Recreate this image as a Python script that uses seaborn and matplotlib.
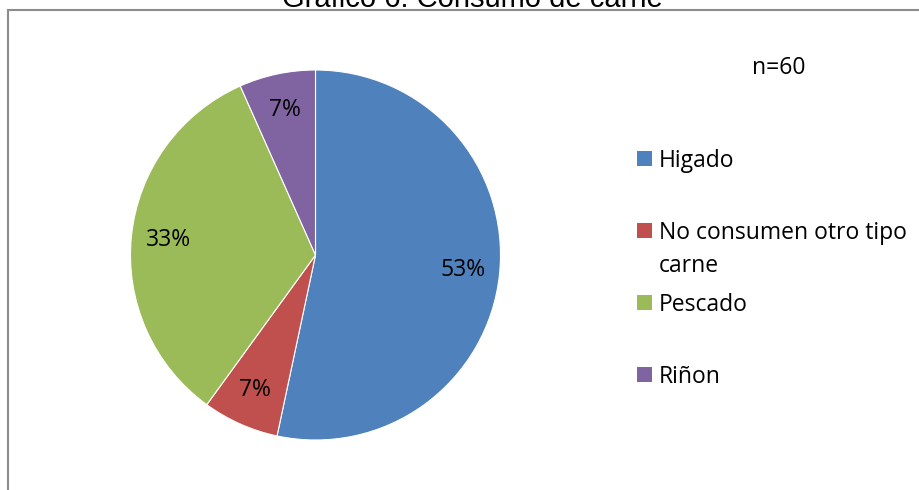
import matplotlib
matplotlib.use("Agg")
import matplotlib.pyplot as plt
from matplotlib.patches import Rectangle
import seaborn as sns

# Consumo de carne (n=60)
categories = ["Higado", "No consumen otro tipo carne", "Pescado", "Riñon"]
legend_labels = ["Higado", "No consumen otro tipo\ncarne", "Pescado", "Riñon"]
counts = [32, 4, 20, 4]
title = "Gráfico 6: Consumo de carne"
sample_note = "n=60"

sns.set_theme(style="white")
plt.rcParams["font.family"] = ["Open Sans", "DejaVu Sans"]
plt.rcParams["text.color"] = "black"

colors = sns.color_palette(["#4F81BD", "#C0504D", "#9BBB59", "#8064A2"])

W, H = 920, 490
fig = plt.figure(figsize=(W / 100, H / 100), dpi=100)

# pie axes: centre (315, 255) px, radius 185 px
cx, cy, r = 315.5, 255, 185
ax = fig.add_axes([(cx - r) / W, (H - cy - r) / H, 2 * r / W, 2 * r / H])
wedges, _, autotexts = ax.pie(
    counts,
    colors=colors,
    startangle=90,
    counterclock=False,
    autopct=lambda p: f"{p:.0f}%",
    pctdistance=0.8,
    wedgeprops=dict(edgecolor="white", linewidth=0.8),
    textprops=dict(fontsize=16.5, color="black"),
)
ax.set_xlim(-1, 1)
ax.set_ylim(-1, 1)
ax.set_aspect("equal")
ax.axis("off")

# chart frame
frame = Rectangle((8 / W, -0.1), 1.2, 1 - 10 / H + 0.1, transform=fig.transFigure,
                  fill=False, edgecolor="#8c8c8c", linewidth=1.5, zorder=0)
fig.patches.append(frame)

fig.text(472 / W, 1 - 7 / H, title, ha="center", va="baseline",
         fontsize=21, family=["Liberation Sans", "DejaVu Sans"])
fig.text(779 / W, 1 - 68 / H, sample_note, ha="center", va="center", fontsize=16.5)

# legend entries
ys = [158.5, 230.5, 302.5, 374.5]
for lab, col, y in zip(legend_labels, colors, ys):
    fig.patches.append(Rectangle((637 / W, 1 - (y + 7.5) / H), 15 / W, 15 / H,
                                 transform=fig.transFigure, facecolor=col,
                                 edgecolor="none"))
    fig.text(659 / W, 1 - (y - 9.5) / H, lab, ha="left", va="top", fontsize=16.5,
             linespacing=1.5)

fig.savefig("out.png", dpi=100)
